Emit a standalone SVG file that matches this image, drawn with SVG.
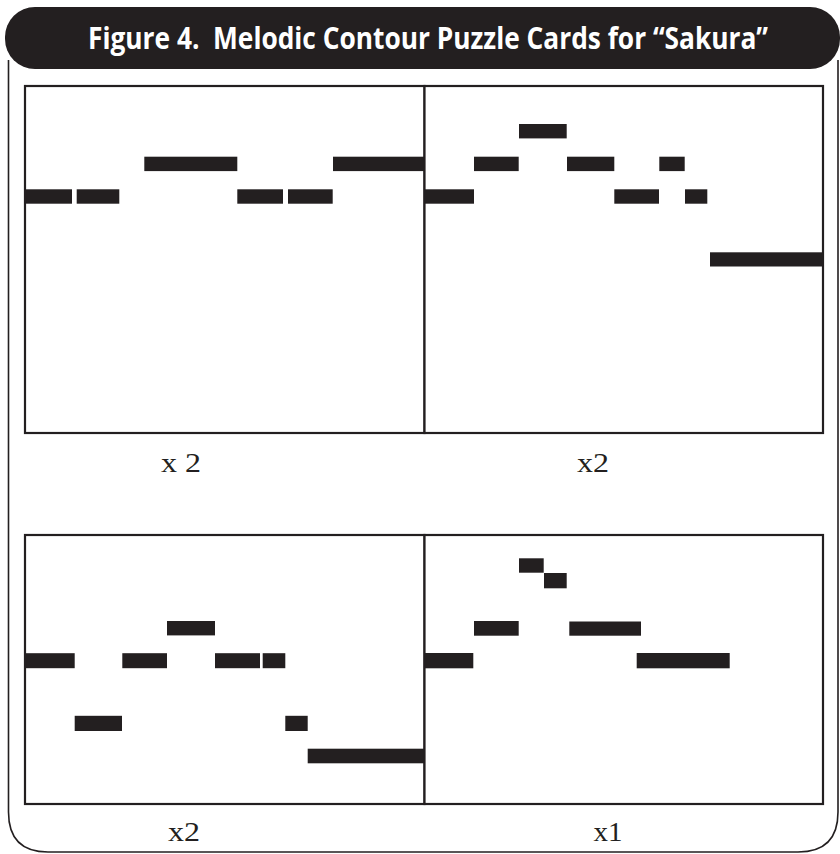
<svg xmlns="http://www.w3.org/2000/svg" width="840" height="854" viewBox="0 0 840 854">
<style>
.frame{fill:none;stroke:#231f20;stroke-width:1.6}
.card{fill:#fff;stroke:#231f20;stroke-width:2.2}
.bar{fill:#231f20}
.lbl{font-family:"Liberation Serif","Times New Roman",serif;font-size:27px;fill:#231f20;text-anchor:middle}
.title{font-family:"Open Sans","Liberation Sans",sans-serif;font-weight:bold;font-size:30px;fill:#fff}
</style>
<rect width="840" height="854" fill="#fff"/>
<g id="frame">
<path class="frame" d="M8.5,60 V812 Q8.5,852 48,852 H798 Q838,852 838,812 V60"/>
</g>
<g id="title">
<rect x="5" y="7" width="835" height="62" rx="30" ry="30" fill="#231f20"/>
<text class="title" x="0" y="0" transform="translate(88,49) scale(0.74,1)" textLength="919" lengthAdjust="spacingAndGlyphs" xml:space="preserve">Figure 4.  Melodic Contour Puzzle Cards for “Sakura”</text>
</g>
<g id="card-top-left">
<rect class="card" x="25" y="86" width="399.5" height="347"/>
<rect class="bar" x="25" y="189.3" width="47" height="14.4"/>
<rect class="bar" x="76.7" y="189.3" width="42.6" height="14.4"/>
<rect class="bar" x="144.3" y="156.7" width="93" height="14.4"/>
<rect class="bar" x="237.3" y="189.3" width="45.7" height="14.4"/>
<rect class="bar" x="288" y="189.3" width="44.7" height="14.4"/>
<rect class="bar" x="333" y="156.7" width="91.5" height="14.4"/>
</g>
<g id="card-top-right">
<rect class="card" x="424.5" y="86" width="398.5" height="347"/>
<rect class="bar" x="424.5" y="189.3" width="49.5" height="14.4"/>
<rect class="bar" x="474" y="156.7" width="44.7" height="14.4"/>
<rect class="bar" x="519" y="124" width="47.7" height="14.4"/>
<rect class="bar" x="567" y="156.7" width="47.3" height="14.4"/>
<rect class="bar" x="614.3" y="189.3" width="44.7" height="14.4"/>
<rect class="bar" x="659.3" y="156.7" width="25.4" height="14.4"/>
<rect class="bar" x="685" y="189.3" width="22.3" height="14.4"/>
<rect class="bar" x="710" y="252.3" width="113" height="14.2"/>
</g>
<g id="card-bottom-left">
<rect class="card" x="25" y="535" width="399.5" height="269"/>
<rect class="bar" x="167" y="621" width="48" height="14.4"/>
<rect class="bar" x="25" y="653.2" width="49.7" height="15"/>
<rect class="bar" x="122.3" y="653.2" width="44.7" height="15"/>
<rect class="bar" x="215" y="653.2" width="45" height="15"/>
<rect class="bar" x="262.7" y="653.2" width="22.6" height="15"/>
<rect class="bar" x="74.7" y="715.8" width="47.3" height="15.2"/>
<rect class="bar" x="285.3" y="715.8" width="22.4" height="15.2"/>
<rect class="bar" x="307.7" y="748.7" width="116.8" height="14.6"/>
</g>
<g id="card-bottom-right">
<rect class="card" x="424.5" y="535" width="398.5" height="269"/>
<rect class="bar" x="519" y="558.3" width="24.7" height="14.4"/>
<rect class="bar" x="544" y="573" width="22.7" height="15.3"/>
<rect class="bar" x="474" y="621" width="44.7" height="14.7"/>
<rect class="bar" x="569.3" y="621.5" width="71.7" height="14.2"/>
<rect class="bar" x="424.5" y="653" width="48.8" height="15.3"/>
<rect class="bar" x="636.7" y="653" width="93" height="15.3"/>
</g>
<g id="labels">
<text class="lbl" x="181" y="472" textLength="40" lengthAdjust="spacingAndGlyphs" xml:space="preserve">x 2</text>
<text class="lbl" x="593" y="472" textLength="32" lengthAdjust="spacingAndGlyphs">x2</text>
<text class="lbl" x="184" y="841" textLength="32" lengthAdjust="spacingAndGlyphs">x2</text>
<text class="lbl" x="608" y="841" textLength="29" lengthAdjust="spacingAndGlyphs">x1</text>
</g>
<g id="connectors"></g>
</svg>
